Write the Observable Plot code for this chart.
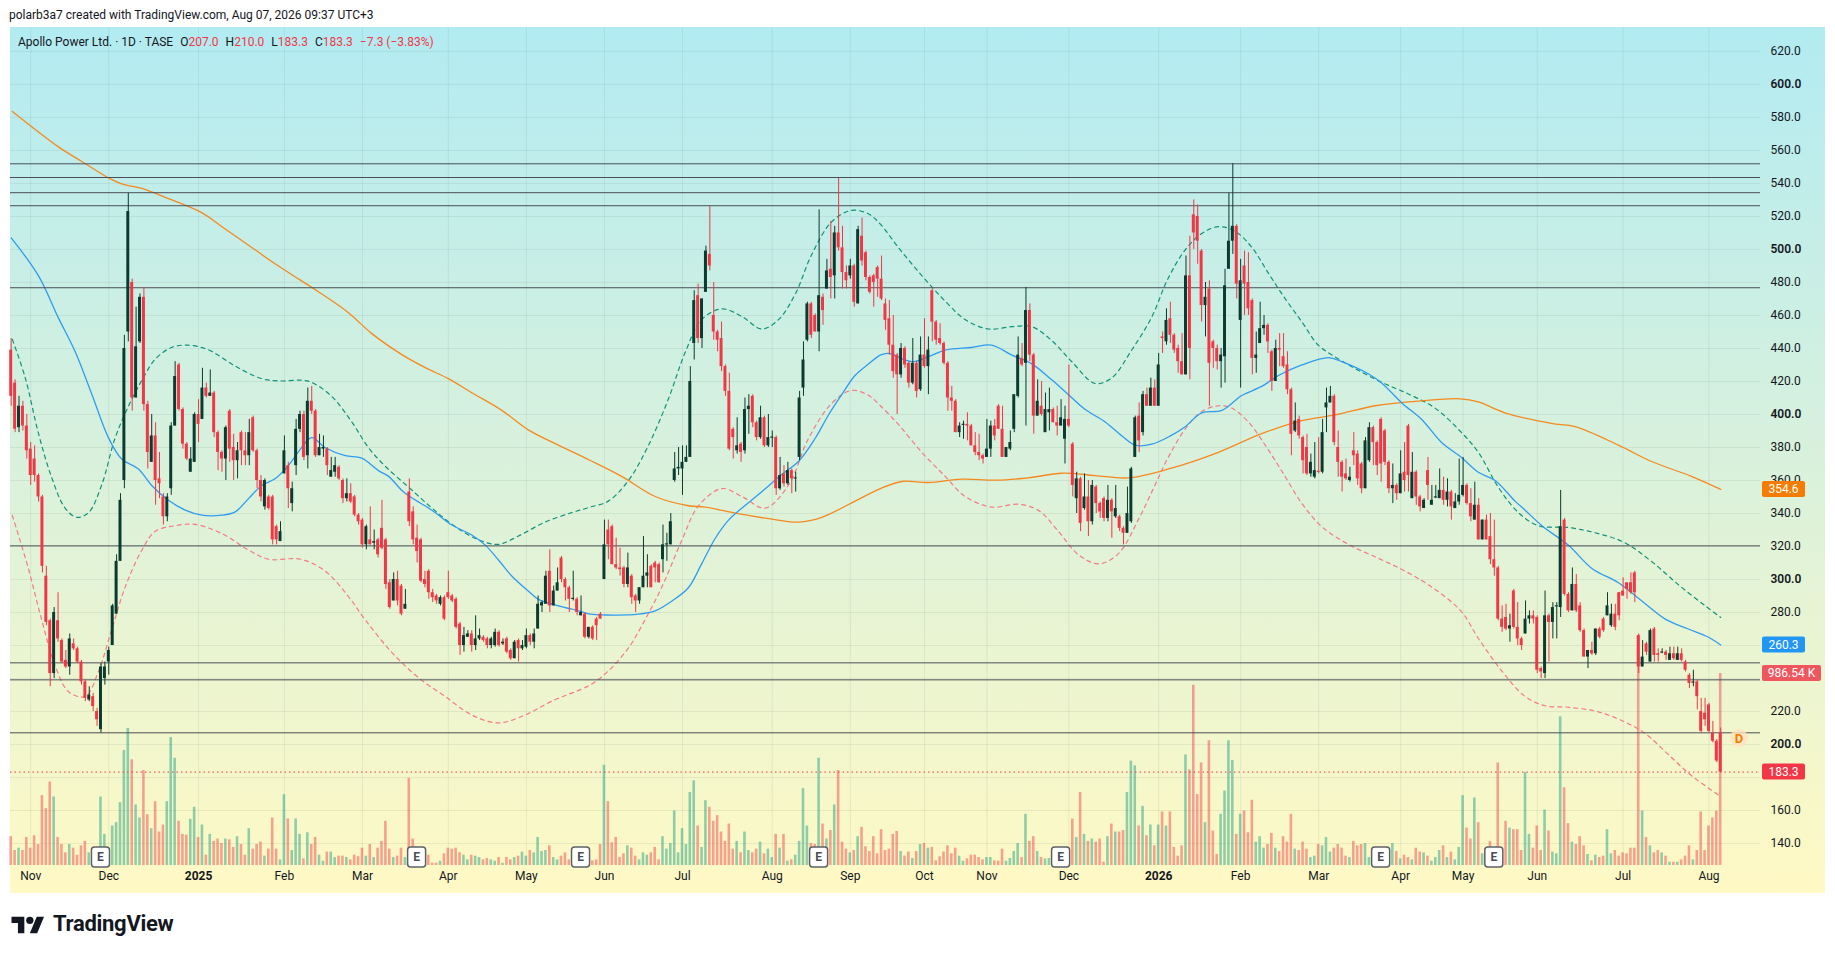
<!DOCTYPE html>
<html><head><meta charset="utf-8">
<script src="https://cdn.jsdelivr.net/npm/d3@7"></script>
<script src="https://cdn.jsdelivr.net/npm/@observablehq/plot@0.6"></script>
<style>
html,body{margin:0;padding:0;background:#fff;}
body{width:1835px;height:953px;overflow:hidden;position:relative;font-family:Roboto,"Noto Sans",sans-serif;color:#131722;}
#credit{position:absolute;left:9px;top:7px;font-size:12px;line-height:16px;white-space:nowrap;}
#panel{position:absolute;left:10px;top:27px;width:1815px;height:866px;background:linear-gradient(to bottom,#b2ebf2 0%,#d9f1dc 50%,#fff9c4 100%);}
#legend{position:absolute;left:8px;top:8px;font-size:12px;line-height:14px;white-space:nowrap;}
#legend span{margin-left:7px}
#legend .r{color:#f23645;margin-left:0}
#logo{position:absolute;left:11px;top:911px;display:flex;align-items:center;gap:8px;font-size:22px;font-weight:700;letter-spacing:-0.3px;}
</style></head>
<body>
<div id="credit">polarb3a7 created with TradingView.com, Aug 07, 2026 09:37 UTC+3</div>
<div id="panel"><div id="chart"></div>
<div id="legend">Apollo Power Ltd. · 1D · TASE<span>O<b class="r" style="font-weight:400">207.0</b></span><span>H<b class="r" style="font-weight:400">210.0</b></span><span>L<b class="r" style="font-weight:400">183.3</b></span><span>C<b class="r" style="font-weight:400">183.3</b></span><span class="r" style="margin-left:7px">−7.3 (−3.83%)</span></div>
</div>
<div id="logo"><svg width="34" height="22" viewBox="0 0 36 24"><path d="M14 22H7V11H0V4h14v18zM28 22h-8l7.5-18h8L28 22z" fill="#131722"/><circle cx="20" cy="8" r="4" fill="#131722"/></svg><span>TradingView</span></div>
<script>
// ---- daily candles (Oct 2024 – 7 Aug 2026) ----
const opens = [
439,419,392,405,393,379,373,363,350,302,275,243,275,263,251,247,261,258,250,238,227,229,220,209,240,250,260,279,311,360,450,480,410,444,471,406,371,387,361,350,338,355,393,430,403,382,365,371,400,397,416,411,413,389,377,373,402,380,372,389,378,375,398,378,360,344,350,350,332,323,364,369,346,369,391,
400,375,408,402,375,379,379,362,365,368,360,349,352,350,339,336,321,324,322,324,331,324,298,287,300,296,282,353,341,325,324,300,305,292,290,285,289,292,290,288,273,260,265,267,260,264,265,264,260,260,268,261,264,257,252,263,258,259,266,262,270,284,285,305,284,293,313,300,295,288,288,278,279,265,
271,276,279,300,330,332,309,307,307,297,302,290,287,295,302,308,310,309,312,321,321,360,367,367,371,374,443,472,446,474,497,460,450,446,429,414,391,378,382,378,403,411,395,386,398,381,386,386,355,364,358,366,361,374,416,445,467,460,450,471,476,488,484,510,501,486,484,490,467,508,498,483,484,489,
482,467,458,442,436,424,440,431,419,431,415,436,429,475,456,446,443,431,410,408,389,393.5,394,393,381,377,375,374,379,393,405,391,374,379,391,411,434,431,463,436,399,405,389,401,403,395,393,385,397,382,349,361,343,350,335,356,346,349,337,348,338,338,331,328,335,374,399,389,412,405,416,405,447,444,
458,448,440,432,424,484,521,520,499,466,476,444,440,432,435,488,505,514,457,490,480,469,434,443,452,454,438,420,440,435,430,415,390,397,386,380,364,362,365.5,365,404,407,411,380,371,364,360,378,376,370,355,372,392,383,397,390,371,355,357,352,365,393,349,365,350,343,366,345,349.5,349,354,348,353,343,347,
351,357,346,336,345,324,336,326,312,307,276,277,270,293,271,264,267,276,278,277,246,243,278,274,283.5,283,336,291,281,297,284,269,253,257,255,270,276,278,272,279,292,293,298,298,304,266,247,261,250,270,255,255.5,256,251,255,251,255,250,242,237.5,238,220,219,224,207,202,207
];
const highs = [
446,421,411,408,400,383,381,364,351,308,276,283,292,264,257,267,264,259,251,239,235,231,222,249,250,259,285,315,352,448,534,482,465,473,477,408,400,395,377,352,352,395,432,431,404,383,380,401,409,428,419,427,414,390,378,393,403,388,383,390,389,397,399,379,363,361,351,351,333,335,387,371,359,397,402,
402,416,417,403,388,387,380,374,374,369,361,361,358,351,340,337,333,344,330,325,348,325,300,304,305,297,294,361,344,333,325,305,306,294,291,290,290,305,291,289,274,271,269,269,278,270,266,265,265,270,269,264,265,258,263,264,263,270,267,270,290,287,305,318,296,307,314,301,296,305,289,290,280,271,
272,277,280,336,336,333,325,319,308,316,303,291,295,326,315,309,311,310,333,328,340,377,380,381,381,429,475,479,470,502,526,480,451,456,430,425,392,398,383,410,412,412,396,405,399,400,390,387,374,369,371,367,365,414,444,468,468,461,524,473,494,517,514,543,514,490,494,491,514,519,499,484,485,490,
496,470,469,460,437,443,441,432,446,432,447,458,447,476,457,455,444,432,417,409,395,396,401,394,389,388,376,397,396,397,406,405,380,390,412,447,443,477,467,437,421,420,413,416,404,405,409,405,430,383,365,362,364,360,360,357,347,350,357,349,357,339,332,356,368,399,407,414,416,422,421,437,450,464,
468,449,442,449,496,508,530,527,500,480,481,445,442,440,488,534,552,515,494,499,498,470,450,468,460,455,439,445,449,449,438,416,407,399,387,388,376,383,386,397,416,417,412,390,372,373,368,389,378,371,386,395,393,384,398,391,372,370,358,378,383,394,377,366,351,349,374,357,357,367,362,361,354,352,373,
374,358,355,359,349,336,339,340,336,308,284,285,279,294,286,265,287,281,281,278,247,293,279,286,286,354,337,292,307,303,286,270,257,262,270,271,277,292,285,285,292,301,298,304,305,267,263,262,270,271,258,258,257,259,259,259,258,251,243,245,239,228,228,225,214,203,210
];
const lows = [
405,389,389,390,373,357,359,347,304,272,235,240,262,249,246,242,257,249,236,226,226,220,211,207,236,242,260,279,311,355,444,402,410,443,402,367,371,345,349,333,335,351,393,402,379,372,365,371,383,397,410,411,386,366,365,360,371,360,361,369,369,369,377,355,347,342,342,321,321,323,364,343,341,363,389,
372,367,400,374,375,374,363,362,362,360,346,347,346,338,333,319,318,321,318,313,318,294,282,287,284,278,282,332,321,310,298,295,288,286,285,284,275,288,286,270,254,256,265,256,257,263,262,258,258,259,259,260,255,251,252,250,257,258,260,258,270,280,285,280,284,293,298,287,280,287,278,278,264,264,
263,263,276,300,312,309,306,302,295,295,285,280,285,295,295,295,298,298,304,311,321,359,363,351,371,374,433,443,440,474,487,445,438,426,411,378,373,376,371,376,388,392,384,385,380,380,380,351,354,356,357,352,353,372,411,444,446,450,438,454,476,470,470,499,476,476,482,465,467,490,481,473,465,471,
469,451,436,422,400,422,428,416,418,410,414,428,412,444,442,442,430,402,402,389,386,385,384,381,375,372,370,374,374,384,391,374,374,378,389,410,429,393,432,388,399,399,389,390,395,387,393,370,392,350,340,329,342,326,333,340,337,335,335,325,337,329,321,328,334,374,377,387,405,405,405,405,437,442,
443,437,425,424,424,421,500,491,456,447,405,428,427,416,419,488,497,470,416,460,460,424,425,443,448,437,414,420,429,428,412,375,389,385,364,363,362,361,364,364,389,407,381,362,353,360,359,369,357,352,355,371,369,363,359,369,352,346,348,352,353,353,349,345,341,343,348,345,349,349,345,344,336,343,345,
350,345,335,336,324,324,324,309,302,275,268,269,262,270,260,257,267,273,273,243,240,240,250,264,264,277,290,280,281,280,268,253,246,254,254,264,268,278,271,269,275,290,288,291,286,243,247,254,250,250,250,255,251,251,251,251,250,244,234,235,221,207,211,207,201,189,183.3
];
const closes = [
411,391,405,393,378,363,363,350,308,274,243,280,264,250,247,264,258,250,238,228,230,223,215,247,247,257,284,311,348,440,523,410,441,471,406,377,387,360,358,338,350,393,423,403,382,373,373,400,394,416,411,413,389,377,373,392,379,372,378,378,375,389,378,360,350,360,343,324,324,329,378,355,355,391,400,
374,408,402,375,380,380,369,366,369,361,349,352,347,339,335,321,332,321,323,315,319,297,283,300,287,279,285,335,324,317,299,297,292,289,287,289,276,289,287,271,260,266,267,260,264,266,263,260,264,268,260,262,256,252,262,258,260,266,262,267,285,286,302,284,293,298,300,295,288,288.5,280,280,265,271,
264,272,276,321,321,309,307,306,297,307,289,287,295,302,304,295,307,298,321,321.5,335,367,368,371,374,420,469,446,470,499,490,450,445,429,414,379,386,381,377,403,405,395,386,398,381,386,386,355,363,358,366,361,361.5,410,433,467,448,450,472,463,487,483,510,501,486,481,490,468,512,493,483,474,480,482,
470,457,442,426,424,440,430,419,431,414,436,429,439,456,445,443,431,410,408,389,393,394,393,381,377,375,373,379,393,387,391,374,380,383,412,436,430,463,436,399,408,400,403,403,395,393,398,397,393,357,361,334,350,335,357,346,341,337,348,341,343,331,328,340,367,398,384,412,405,416,405,430,446,457,
448,439,432,424,484,440,510,505,466,471,431,440,432,436,478,505,514,479,481,479,464,434,436,452,454,444,420,440,439,429,415,388,396,387,372,364,371,366,365,389,407,411,383,371,362,361,362,375,361,355,384,392,383,369,370,371,355,357,352,364,360,363,365,350,344,348,357,348,350,354,348,353,344,347,351,
357,346,338,345,324,336,324,312,307,276,271,270,272,271,264,260,276,278,276,245,244,278,274,283,284,332,291,281,297,281,269,253,257,255,270,265,269,284,279,271,278,290,294,292,292,247,253,256,269,254,254,256,254,255,252,255,251,245,237,237.6,229,208,215,208,202,190,183.3
];
// volume in thousands of shares
const volumes = [
148,77,89,77,144,89,153,108,359,292,429,352,144,108,65,108,89,53,101,124,65,41,53,352,160,77,203,220,323,591,704,543,311,244,488,261,189,328,172,208,328,658,551,227,160,156,237,299,144,208,53,160,124,136,113,136,132,93,148,108,53,189,84,108,120,48,84,244,84,29,364,239,77,239,160,
34,168,108,144,53,22,69,69,41,48,48,41,29,53,45,89,48,108,41,89,124,227,84,41,48,89,41,448,136,41,45,29,53,12,12,22,60,89,84,89,65,53,29,53,48,41,29,36,29,22,41,12,41,29,41,48,69,48,77,65,144,72,77,101,41,29,48,65,29,41,41,41,48,77,
24,29,108,515,328,117,144,41,60,101,89,48,29,65,53,65,93,29,148,84,113,280,65,189,108,375,435,203,93,333,299,227,256,172,124,213,84,124,65,172,77,65,84,120,60,84,41,160,89,160,22,29,53,124,395,203,113,108,551,213,136,180,311,488,120,84,65,77,148,196,96,72,148,60,
184,77,84,160,175,72,48,69,36,72,108,113,89,93,24,45,69,101,60,89,48,22,34,53,53,41,29,41,41,24,22,84,22,36,72,113,41,263,124,148,72,41,34,36,12,12,17,22,41,239,144,375,160,124,136,120,136,17,148,213,172,172,180,375,536,512,203,304,153,208,101,208,275,203,
275,93,48,101,568,491,926,364,527,220,641,177,57,263,383,641,540,160,263,280,168,335,120,148,89,108,165,89,72,148,120,263,84,77,120,84,41,48,108,101,144,69,89,108,89,48,41,124,101,108,113,41,17,17,17,17,24,113,72,34,53,41,29,89,69,65,48,22,41,77,101,41,69,29,93,
359,192,136,347,220,60,41,124,41,527,89,227,192,184,184,77,479,160,89,203,77,285,177,69,60,764,399,215,120,108,148,101,57,24,53,41,48,184,60,77,48,65,60,89,89,1183,280,144,101,65,77,65,48,17,17,17,29,48,101,29,77,275,77,203,244,280,986.54
];
// ---- indicator curves: [bar index, price] ----
const maBlue = [[0,507],[7,484],[12,459],[16.4,438],[20.7,412],[24.9,386],[28.3,373],[32.6,367],[36,357],[40.3,348],[44.6,342],[48.8,339],[54,339],[57.4,341],[60.8,349],[64.2,357],[67.6,361],[71,369],[74.1,379],[77,386],[80.4,380],[85.6,375],[89.8,373.5],[94.1,366],[96.7,362.5],[100.1,354],[102.6,349.5],[107.8,342],[112.9,333],[118,327],[121.4,321],[124.8,312],[128.3,302],[132.5,293],[135.1,288],[140.2,284],[145.4,281],[148.4,279],[152.2,278.5],[160.7,279],[165,281],[169.3,287],[173.5,295],[176.9,309.5],[180.4,325],[183.8,336],[188.1,345],[193.2,355],[197.4,363.6],[201.7,371.5],[206,385.6],[209.4,399.7],[212.8,412],[216.2,423.6],[219.7,430.7],[222.7,436],[224.8,437],[230.7,432],[235,435],[239.3,439],[246.1,440.6],[251.2,442],[256.4,436],[261.5,430.7],[266.6,421],[270.9,412],[275.2,403],[280.3,395.5],[284.6,387],[288,381.4],[292.2,382],[297,387],[300.8,392.6],[305,401],[310.2,402.5],[315.3,411.5],[320.4,417],[324.7,423.6],[330.7,430],[337.5,434.4],[340.9,432],[347.8,424.5],[351.2,419],[356.3,407],[361.4,397],[366.5,383],[371.3,374.5],[375.9,365],[380.2,360],[385.3,347.5],[387.9,342],[392.2,332.6],[399,320.7],[405,306.7],[411.8,298],[417.8,287],[423.8,276],[429.7,270],[434.9,265],[438,260.3]];
const maOrange = [[0.3,583.6],[12.2,562],[18.1,553.3],[24.9,543.4],[28.3,539.8],[33.5,537],[40.3,530.8],[48.8,522.3],[54,513.8],[60.8,502.6],[67.6,491.3],[74.1,481.4],[78.7,474.4],[86.4,461.7],[92.4,449],[100.1,436.3],[106.1,428.4],[112,421.7],[118,413.2],[125.7,402.5],[132.5,390.7],[140.2,381.4],[148.4,372.1],[156.4,362.5],[165,350.3],[173.5,344.7],[177.8,343.9],[186.3,339.9],[195.7,336.3],[201.7,334.8],[207.7,337.7],[216.2,347.5],[222.7,355.1],[228.2,359.4],[235,358.8],[243.6,360.8],[252.1,360.2],[260.6,361.6],[269.2,364.4],[277.7,363],[286.3,361.6],[297,367.3],[309.3,377.1],[320.4,388.4],[330.7,396.3],[339.2,399.7],[349.5,405.3],[360.6,408.1],[371.3,409.5],[375.9,407.6],[382.7,401],[394.6,394.6],[400.7,392.6],[411.8,381.4],[420.3,371.5],[430.5,362.5],[438,354.6]];
const bandUpper = [[0.3,445.5],[3.6,422.2],[7,388.4],[10.4,361.6],[13.8,343.3],[16.8,337.7],[19.8,340.5],[23.2,357.4],[26.6,385.6],[30.1,405.3],[33.5,420.8],[36.9,433.5],[41.1,440.6],[45.4,442],[50.6,439.1],[57.4,429.3],[64.2,421.7],[69.3,420.3],[74.1,420.8],[77,419.4],[82.1,411],[87.3,395.4],[91.5,380],[95.8,368.7],[101.8,356],[107.8,343.3],[113.8,332],[119.7,324.1],[124.8,321.3],[130,326.4],[136.8,334.8],[143.6,340.5],[148.4,343.9],[153,347.5],[158.2,360.2],[163.3,381.4],[168.4,409.5],[172.7,437.7],[176.9,457.5],[182.1,464],[187.2,459.4],[192.3,451.8],[196.6,457.5],[200.9,473],[205.1,496.9],[210.2,516.7],[215.3,523.7],[219.7,521.5],[222.7,515.3],[227.3,501.2],[233.3,484.2],[239.3,468.7],[244.4,457.5],[250.4,451.8],[256.4,453.2],[261.5,453.2],[266.6,444.8],[271.7,432.1],[277.7,418.8],[282,422.2],[287.1,439.1],[292.2,458.9],[296.2,481.4],[300.8,499.8],[305,509.6],[309.3,513.8],[313.6,511],[317.9,501.2],[322.1,485.7],[326.4,470.2],[330.7,456.1],[334.9,442],[339.2,434.9],[344.3,427.9],[351.2,419.4],[358,412.4],[364.8,403.9],[371.3,389.8],[375.9,377.1],[381,356],[386.2,340.5],[391.3,332.6],[399,331.5],[406.7,327.8],[413.5,322.2],[420.3,310.9],[427.2,296.8],[434,284.1],[438,277]];
const bandLower = [[0.3,338.8],[4.4,306.6],[7.8,275.6],[11.3,247.5],[14.7,232],[19,229.1],[22.4,244.6],[25.8,270],[29.2,295.4],[33.5,317.9],[36.9,329.2],[42,332.6],[47.1,333.4],[54,327.8],[60.8,317.9],[65.9,312.3],[74.1,312.3],[80.4,305.2],[86.4,289.7],[90.7,275.6],[97.5,255.9],[104.4,240.4],[111.2,229.1],[118,217.9],[124.8,213.1],[131.7,217.9],[138.5,226.3],[148.4,236.2],[153,244.6],[158.2,258.7],[162.4,275.6],[166.7,295.4],[171.8,323.6],[176.1,344.7],[182.1,355.1],[187.2,350.3],[193.2,343.3],[199.2,357.4],[204.3,385.6],[210.2,406.7],[215.3,414.6],[219.7,411.5],[222.7,405.3],[227.3,394],[233.3,377.1],[239.3,362.5],[244.4,350.3],[251.2,343.9],[258.1,345.6],[263.2,341.9],[268.3,329.2],[273.4,315.1],[278.6,309.5],[283.7,315.7],[288.8,336.3],[293.1,357.4],[296.2,372.9],[300.8,391.2],[305,401.7],[309.3,405.3],[312.7,403.9],[317,395.4],[321.3,381.4],[325.5,365.9],[330.7,346.1],[335.8,332],[342.6,321.3],[349.5,313.7],[356.3,306.1],[363.1,296.8],[371.3,281.3],[375.9,264.4],[381.9,244.6],[387.9,229.1],[393,223.5],[399,222.6],[406.7,219.8],[413.5,213.6],[418.7,206.6],[424.6,193.9],[430.5,181.2],[438,168.5]];
// ---- drawn horizontal levels, ticks, events ----
const levels = [551.9,543.6,534.4,526.5,476.8,320.4,249.5,239.2,207.1];
const priceTicks = [140,160,180,200,220,240,260,280,300,320,340,360,380,400,420,440,460,480,500,520,540,560,580,600,620];
const hiddenTicks = [180,240,260]; // covered by the last-value tags in the reference
const monthTicks = [5,25,48,70,90,112,132,152,172,195,215,234,250,271,294,315,335,356,372,391,413,435];
const monthLabels = ["Nov","Dec","2025","Feb","Mar","Apr","May","Jun","Jul","Aug","Sep","Oct","Nov","Dec","2026","Feb","Mar","Apr","May","Jun","Jul","Aug"];
const earningsBars = [23,104,146,207,269,351,380];
const dividend = {bar: 442.8, price: 203.7};
const lastClose = 183.3, lastVolume = 986.54, lastMaOrange = 354.6, lastMaBlue = 260.3;

const n = closes.length;
if ([opens,highs,lows,volumes].some(a => a.length !== n)) throw new Error("length mismatch " + [opens.length,highs.length,lows.length,closes.length,volumes.length]);

const yDomain = [126.7, 634.5];
const volBase = yDomain[0];
const volK = 116.34 / 986.54; // price units per thousand shares in the volume pane
const bars = closes.map((c, i) => {
  const o = opens[i];
  let b1 = Math.min(o, c), b2 = Math.max(o, c);
  if (b2 - b1 < 0.7) { const m = (b1 + b2) / 2; b1 = m - 0.35; b2 = m + 0.35; }
  return {i, o, h: highs[i], l: lows[i], c, v: volumes[i], up: c >= o, b1, b2};
});
const ups = bars.filter(d => d.up), downs = bars.filter(d => !d.up);
const bull = "#0a3b2e", bear = "#f23645";
const monthRows = monthTicks.map((t, k) => ({t, label: monthLabels[k], year: /^\d{4}$/.test(monthLabels[k])}));
const shownTicks = priceTicks.filter(t => !hiddenTicks.includes(t));

const chart = Plot.plot({
  width: 1815, height: 866,
  marginLeft: 0, marginRight: 65, marginTop: 0, marginBottom: 28,
  style: {background: "transparent", fontFamily: "Roboto, sans-serif", fontSize: "12px", color: "#131722", overflow: "visible"},
  x: {domain: [-0.18, 448.2], axis: null},
  y: {domain: yDomain, axis: null},
  marks: [
    Plot.ruleY(priceTicks, {stroke: "#4a6a70", strokeOpacity: 0.1}),
    Plot.ruleX(monthTicks, {stroke: "#4a6a70", strokeOpacity: 0.1}),
    Plot.rect(ups, {x1: d => d.i - 0.33, x2: d => d.i + 0.33, y1: () => volBase, y2: d => volBase + d.v * volK, fill: "#089981", fillOpacity: 0.45}),
    Plot.rect(downs, {x1: d => d.i - 0.33, x2: d => d.i + 0.33, y1: () => volBase, y2: d => volBase + d.v * volK, fill: "#f23645", fillOpacity: 0.45}),
    Plot.line(bandUpper, {x: d => d[0], y: d => d[1], stroke: "#10927a", strokeWidth: 1.2, strokeDasharray: "4,4", curve: "catmull-rom"}),
    Plot.line(bandLower, {x: d => d[0], y: d => d[1], stroke: "#f47a84", strokeWidth: 1.2, strokeDasharray: "4,4", curve: "catmull-rom"}),
    Plot.line(maOrange, {x: d => d[0], y: d => d[1], stroke: "#f5891f", strokeWidth: 1.3, curve: "catmull-rom"}),
    Plot.line(maBlue, {x: d => d[0], y: d => d[1], stroke: "#2f9cf0", strokeWidth: 1.3, curve: "catmull-rom"}),
    Plot.ruleY(levels, {stroke: "#4b4e58", strokeWidth: 1}),
    Plot.ruleX(ups, {x: "i", y1: "l", y2: "h", stroke: bull, strokeWidth: 1}),
    Plot.ruleX(downs, {x: "i", y1: "l", y2: "h", stroke: bear, strokeWidth: 1}),
    Plot.rect(ups, {x1: d => d.i - 0.38, x2: d => d.i + 0.38, y1: "b1", y2: "b2", fill: bull}),
    Plot.rect(downs, {x1: d => d.i - 0.38, x2: d => d.i + 0.38, y1: "b1", y2: "b2", fill: bear}),
    Plot.ruleY([lastClose], {stroke: "#f23645", strokeWidth: 1, strokeDasharray: "1.5,3"}),
    Plot.text(shownTicks.filter(t => t % 100 !== 0), {y: d => d, text: d => d.toFixed(1), frameAnchor: "right", textAnchor: "start", dx: 10, fill: "#131722", fontSize: 12}),
    Plot.text(shownTicks.filter(t => t % 100 === 0), {y: d => d, text: d => d.toFixed(1), frameAnchor: "right", textAnchor: "start", dx: 10, fill: "#131722", fontSize: 12, fontWeight: 600}),
    Plot.text(monthRows.filter(d => !d.year), {x: "t", text: "label", frameAnchor: "bottom", dy: 14, fill: "#131722", fontSize: 12}),
    Plot.text(monthRows.filter(d => d.year), {x: "t", text: "label", frameAnchor: "bottom", dy: 14, fill: "#131722", fontSize: 12, fontWeight: 700})
  ]
});
document.getElementById("chart").appendChild(chart);

const sx = chart.scale("x"), sy = chart.scale("y");
const svg = d3.select(chart);
const xr = sx.range[1];
function tag(value, text, bg, w) {
  const y = sy.apply(value);
  const g = svg.append("g");
  g.append("rect").attr("x", xr + 2).attr("y", y - 8).attr("width", w).attr("height", 16).attr("rx", 2).attr("fill", bg);
  g.append("text").attr("x", xr + 2 + w / 2).attr("y", y).attr("dy", "0.36em").attr("text-anchor", "middle")
    .attr("fill", "#fff").attr("font-size", 12).attr("font-family", "Roboto, sans-serif").text(text);
}
tag(lastMaOrange, "354.6", "#f57c00", 43);
tag(lastMaBlue, "260.3", "#2196f3", 43);
tag(volBase + lastVolume * volK, "986.54 K", "#f0565e", 59);
tag(lastClose, "183.3", "#f23645", 43);

const ev = svg.append("g");
earningsBars.forEach(b => {
  const x = sx.apply(b);
  ev.append("rect").attr("x", x - 9).attr("y", 820).attr("width", 18).attr("height", 20).attr("rx", 3)
    .attr("fill", "#fff").attr("stroke", "#5d606b").attr("stroke-width", 1.5);
  ev.append("text").attr("x", x).attr("y", 830).attr("dy", "0.36em").attr("text-anchor", "middle")
    .attr("font-size", 12).attr("font-weight", 700).attr("fill", "#4a4d57").attr("font-family", "Roboto, sans-serif").text("E");
});
const dx = sx.apply(dividend.bar), dy = sy.apply(dividend.price);
ev.append("circle").attr("cx", dx).attr("cy", dy).attr("r", 9).attr("fill", "#ffe3bf").attr("fill-opacity", 0.8);
ev.append("text").attr("x", dx).attr("y", dy).attr("dy", "0.36em").attr("text-anchor", "middle")
  .attr("font-size", 13).attr("font-weight", 700).attr("fill", "#f57c00").attr("font-family", "Roboto, sans-serif").text("D");
</script>
</body></html>
